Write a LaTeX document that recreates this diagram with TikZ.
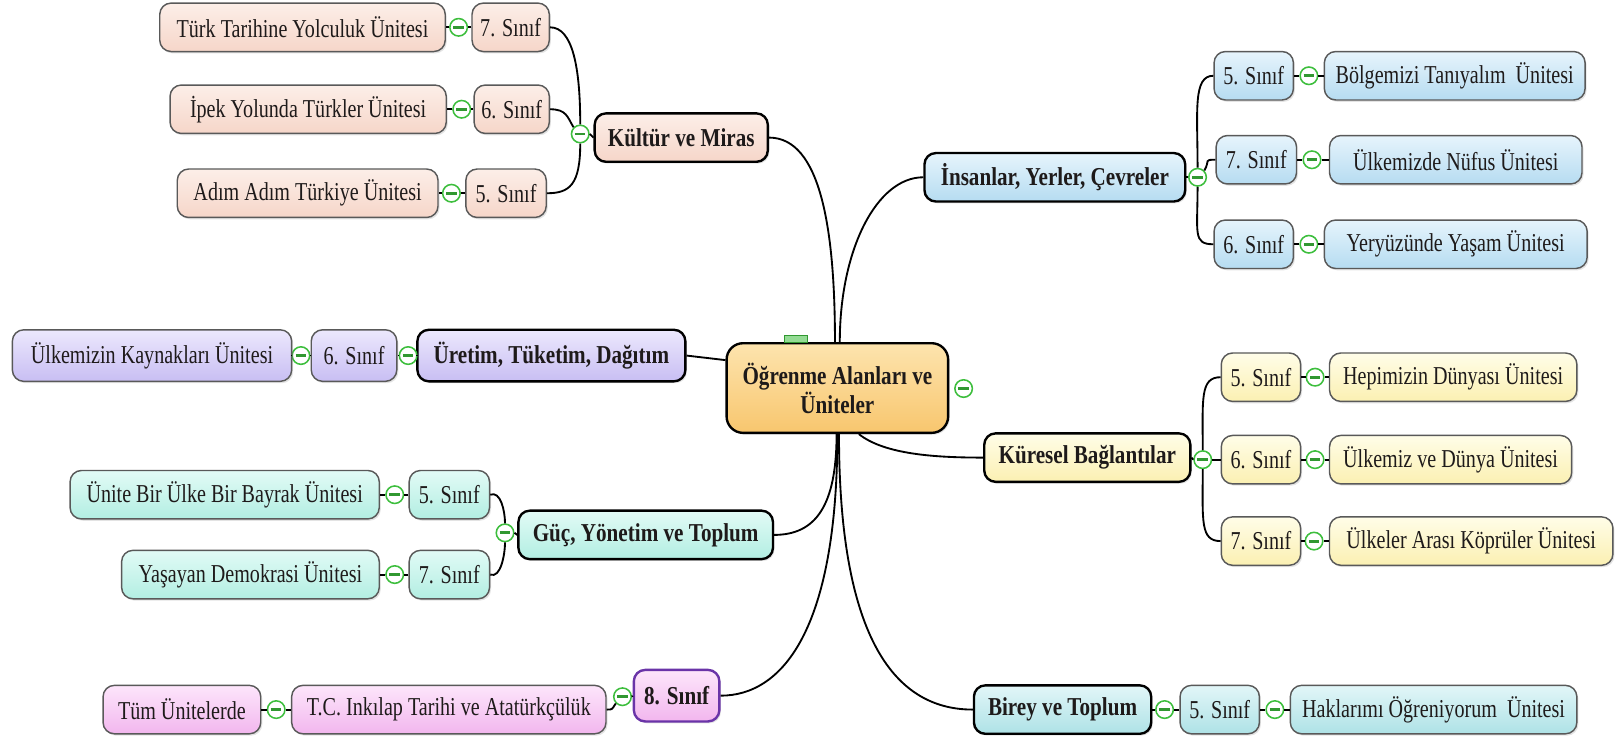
\documentclass[tikz,border=0pt]{standalone}
\usepackage{fontspec}
\setmainfont[FakeStretch=0.78]{Liberation Serif}
\newfontfamily\hubfont[FakeStretch=0.82]{Liberation Serif}
\usetikzlibrary{shadows}
\definecolor{togc}{HTML}{3DBE3D}
\definecolor{pkT}{HTML}{FCEEE8}\definecolor{pkB}{HTML}{F6D6C9}
\definecolor{blT}{HTML}{E6F4FC}\definecolor{blB}{HTML}{B6DCF1}
\definecolor{puT}{HTML}{ECE8FD}\definecolor{puB}{HTML}{C8BEF3}
\definecolor{yeT}{HTML}{FFFDE8}\definecolor{yeB}{HTML}{FBF0B2}
\definecolor{mnT}{HTML}{E2FBF6}\definecolor{mnB}{HTML}{B2EEE2}
\definecolor{aqT}{HTML}{E2F6F8}\definecolor{aqB}{HTML}{AEE2E6}
\definecolor{piT}{HTML}{FDE6FB}\definecolor{piB}{HTML}{F2B6EE}
\definecolor{ceT}{HTML}{FDE4AE}\definecolor{ceB}{HTML}{F8C66E}
\definecolor{s8c}{HTML}{6A34A8}
\definecolor{txt}{HTML}{1E1A1A}
\tikzset{
  leaf/.style={rounded corners=11pt, draw=black!65, line width=1.4pt, minimum height=47pt,
    inner sep=2pt, text=txt, font=\fontsize{25}{27}\selectfont,
    drop shadow={shadow xshift=1.5pt, shadow yshift=-1.8pt, opacity=0.22}},
  hub/.style={leaf, draw=black, line width=2.3pt, font=\hubfont\fontsize{25}{27}\selectfont\bfseries},
  tog/.style={circle, draw=togc, line width=1.5pt, fill=white, minimum size=17pt, inner sep=0pt,
    path picture={\draw[togc!80!black, line width=2.8pt] ([xshift=3.4pt]path picture bounding box.west) -- ([xshift=-3.4pt]path picture bounding box.east);}},
  conn/.style={line width=1.8pt, black},
  pk/.style={top color=pkT, bottom color=pkB},
  bl/.style={top color=blT, bottom color=blB},
  pu/.style={top color=puT, bottom color=puB},
  ye/.style={top color=yeT, bottom color=yeB},
  mn/.style={top color=mnT, bottom color=mnB},
  aq/.style={top color=aqT, bottom color=aqB},
  pi/.style={top color=piT, bottom color=piB},
}
\begin{document}
\begin{tikzpicture}[x=1pt,y=-1pt]
\useasboundingbox (0,0) rectangle (1568,718);
% central
\node[hub, top color=ceT, bottom color=ceB, minimum width=215, minimum height=87, rounded corners=16pt,
  align=center, font=\hubfont\fontsize{25}{28}\selectfont\bfseries] (center) at (812.5,376.5) {Öğrenme Alanları ve\\Üniteler};
\node[draw=togc!80!black, fill=togc!55, line width=0.8pt, minimum width=22pt, minimum height=7pt, inner sep=0pt] (tab) at (772,329) {};
\node[tog] (ct) at (935,377) {};

% Kültür ve Miras
\node[hub, pk, minimum width=168] (kultur) at (661,133.5) {Kültür ve Miras};
\node[tog] (kt) at (563,130) {};
\node[leaf, pk, minimum width=75] (k1s) at (495.5,26.5) {7. Sınıf};
\node[leaf, pk, minimum width=73] (k2s) at (496.5,106) {6. Sınıf};
\node[leaf, pk, minimum width=78] (k3s) at (491,187.5) {5. Sınıf};
\node[tog] (k1t) at (445,26.5) {};
\node[tog] (k2t) at (448,106) {};
\node[tog] (k3t) at (438,187.5) {};
\node[leaf, pk, minimum width=277] (k1) at (293.5,26.5) {Türk Tarihine Yolculuk Ünitesi};
\node[leaf, pk, minimum width=268] (k2) at (299,106) {İpek Yolunda Türkler Ünitesi};
\node[leaf, pk, minimum width=253] (k3) at (298.5,187.5) {Adım Adım Türkiye Ünitesi};

% İnsanlar, Yerler, Çevreler
\node[hub, bl, minimum width=253] (ins) at (1023.5,172) {İnsanlar, Yerler, Çevreler};
\node[tog] (it) at (1162,172) {};
\node[leaf, bl, minimum width=77] (i1s) at (1216.5,73.5) {5. Sınıf};
\node[leaf, bl, minimum width=78] (i2s) at (1219,155) {7. Sınıf};
\node[leaf, bl, minimum width=77] (i3s) at (1216.5,237) {6. Sınıf};
\node[tog] (i1t) at (1270,73.5) {};
\node[tog] (i2t) at (1273,155) {};
\node[tog] (i3t) at (1270,237) {};
\node[leaf, bl, minimum width=253] (i1) at (1411.5,73.5) {Bölgemizi Tanıyalım\ \ Ünitesi};
\node[leaf, bl, minimum width=245] (i2) at (1412.5,155) {Ülkemizde Nüfus Ünitesi};
\node[leaf, bl, minimum width=255] (i3) at (1412.5,237) {Yeryüzünde Yaşam Ünitesi};

% Üretim, Tüketim, Dağıtım
\node[hub, pu, minimum width=260, minimum height=50] (uretim) at (535,345) {Üretim, Tüketim, Dağıtım};
\node[tog] (ut) at (396,345) {};
\node[leaf, pu, minimum width=83, minimum height=50] (u1s) at (343.5,345) {6. Sınıf};
\node[tog] (u1t) at (292,345) {};
\node[leaf, pu, minimum width=271, minimum height=50] (u1) at (147.5,345) {Ülkemizin Kaynakları Ünitesi};

% Küresel Bağlantılar
\node[hub, ye, minimum width=200] (kur) at (1055,444) {Küresel Bağlantılar};
\node[tog] (kbt) at (1167,446) {};
\node[leaf, ye, minimum width=77] (y1s) at (1223.5,366) {5. Sınıf};
\node[leaf, ye, minimum width=77] (y2s) at (1223.5,446) {6. Sınıf};
\node[leaf, ye, minimum width=77] (y3s) at (1223.5,525) {7. Sınıf};
\node[tog] (y1t) at (1276,366) {};
\node[tog] (y2t) at (1276,446) {};
\node[tog] (y3t) at (1275,525) {};
\node[leaf, ye, minimum width=240] (y1) at (1410,366) {Hepimizin Dünyası Ünitesi};
\node[leaf, ye, minimum width=235] (y2) at (1407.5,446) {Ülkemiz ve Dünya Ünitesi};
\node[leaf, ye, minimum width=275] (y3) at (1427.5,525) {Ülkeler Arası Köprüler Ünitesi};

% Güç, Yönetim ve Toplum
\node[hub, mn, minimum width=247] (guc) at (626.5,519) {Güç, Yönetim ve Toplum};
\node[tog] (gt) at (490,517) {};
\node[leaf, mn, minimum width=78] (g1s) at (436,480) {5. Sınıf};
\node[leaf, mn, minimum width=78] (g2s) at (436,557.5) {7. Sınıf};
\node[tog] (g1t) at (383,480) {};
\node[tog] (g2t) at (383,557.5) {};
\node[leaf, mn, minimum width=300] (g1) at (218,480) {Ünite Bir Ülke Bir Bayrak Ünitesi};
\node[leaf, mn, minimum width=250] (g2) at (243,557.5) {Yaşayan Demokrasi Ünitesi};

% 8. Sınıf
\node[hub, pi, draw=s8c, minimum width=83, minimum height=50] (s8) at (656.5,675) {8. Sınıf};
\node[tog] (s8t) at (604,676) {};
\node[leaf, pi, minimum width=305] (tc) at (435.5,688.5) {T.C. Inkılap Tarihi ve Atatürkçülük};
\node[tog] (tct) at (268,688.5) {};
\node[leaf, pi, minimum width=153] (tum) at (176.5,688.5) {Tüm Ünitelerde};

% Birey ve Toplum
\node[hub, aq, minimum width=172] (birey) at (1031,688.5) {Birey ve Toplum};
\node[tog] (bt) at (1130,688.5) {};
\node[leaf, aq, minimum width=77] (b1s) at (1183.5,688.5) {5. Sınıf};
\node[tog] (b1t) at (1237,688.5) {};
\node[leaf, aq, minimum width=278] (b1) at (1391,688.5) {Haklarımı Öğreniyorum\ \ Ünitesi};

% connectors from centre
\draw[conn] (center.93) .. controls +(0,-110) and +(50,0) .. (kultur.east);
\draw[conn] (center.87) .. controls +(0,-90) and +(-45,0) .. (ins.west);
\draw[conn] (uretim.east) -- (center.166);
\draw[conn] (center.-65) .. controls +(25,20) and +(-45,0) .. (kur.west);
\draw[conn] (center.-91) .. controls +(0,70) and +(40,0) .. (guc.east);
\draw[conn] (center.-90) .. controls +(0,190) and +(60,0) .. (s8.east);
\draw[conn] (center.-88) .. controls +(0,190) and +(-80,0) .. (birey.west);

% Kültür
\draw[conn] (kultur.west) -- (kt.east);
\draw[conn] (kt.north) .. controls +(0,-55) and +(22,0) .. (k1s.east);
\draw[conn] (kt.north west) .. controls +(-6,-10) and +(16,0) .. (k2s.east);
\draw[conn] (kt.south) .. controls +(0,40) and +(22,0) .. (k3s.east);
\draw[conn] (k1s.west) -- (k1t.east); \draw[conn] (k1t.west) -- (k1.east);
\draw[conn] (k2s.west) -- (k2t.east); \draw[conn] (k2t.west) -- (k2.east);
\draw[conn] (k3s.west) -- (k3t.east); \draw[conn] (k3t.west) -- (k3.east);

% İnsanlar
\draw[conn] (ins.east) -- (it.west);
\draw[conn] (it.north) .. controls +(0,-55) and +(-20,0) .. (i1s.west);
\draw[conn] (it.north east) .. controls +(6,-10) and +(-12,0) .. (i2s.west);
\draw[conn] (it.south) .. controls +(0,45) and +(-20,0) .. (i3s.west);
\draw[conn] (i1s.east) -- (i1t.west); \draw[conn] (i1t.east) -- (i1.west);
\draw[conn] (i2s.east) -- (i2t.west); \draw[conn] (i2t.east) -- (i2.west);
\draw[conn] (i3s.east) -- (i3t.west); \draw[conn] (i3t.east) -- (i3.west);

% Üretim
\draw[conn] (uretim.west) -- (ut.east); \draw[conn] (ut.west) -- (u1s.east);
\draw[conn] (u1s.west) -- (u1t.east); \draw[conn] (u1t.west) -- (u1.east);

% Küresel
\draw[conn] (kur.east) -- (kbt.west);
\draw[conn] (kbt.north) .. controls +(0,-50) and +(-20,0) .. (y1s.west);
\draw[conn] (kbt.east) -- (y2s.west);
\draw[conn] (kbt.south) .. controls +(0,50) and +(-20,0) .. (y3s.west);
\draw[conn] (y1s.east) -- (y1t.west); \draw[conn] (y1t.east) -- (y1.west);
\draw[conn] (y2s.east) -- (y2t.west); \draw[conn] (y2t.east) -- (y2.west);
\draw[conn] (y3s.east) -- (y3t.west); \draw[conn] (y3t.east) -- (y3.west);

% Güç
\draw[conn] (guc.west) -- (gt.east);
\draw[conn] (gt.north) .. controls +(0,-12) and +(10,-4) .. (g1s.east);
\draw[conn] (gt.south) .. controls +(0,12) and +(10,4) .. (g2s.east);
\draw[conn] (g1s.west) -- (g1t.east); \draw[conn] (g1t.west) -- (g1.east);
\draw[conn] (g2s.west) -- (g2t.east); \draw[conn] (g2t.west) -- (g2.east);

% 8. Sınıf
\draw[conn] (s8.west) -- (s8t.east);
\draw[conn] (s8t.south west) .. controls +(-4,6) and +(6,0) .. (tc.east);
\draw[conn] (tc.west) -- (tct.east); \draw[conn] (tct.west) -- (tum.east);

% Birey
\draw[conn] (birey.east) -- (bt.west); \draw[conn] (bt.east) -- (b1s.west);
\draw[conn] (b1s.east) -- (b1t.west); \draw[conn] (b1t.east) -- (b1.west);
\end{tikzpicture}
\end{document}
